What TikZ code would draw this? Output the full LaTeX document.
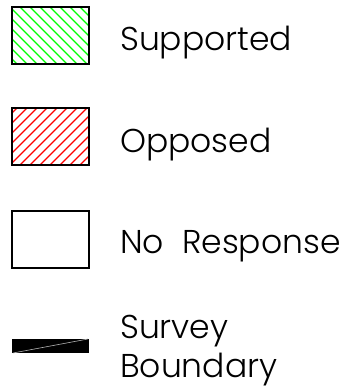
\documentclass[tikz,border=0pt]{standalone}
\usepackage{fontspec}
\setmainfont{Poppins}[UprightFont={* Light}]
\begin{document}
\begin{tikzpicture}[x=1pt,y=-1pt,
  legbox/.style={draw=black,line width=1.4pt},
  legtext/.style={anchor=base west,inner sep=0pt,font=\fontsize{33}{36}\selectfont},
  hatchline/.style={line width=1.1pt}]
\useasboundingbox (0,0) rectangle (361,391);
% Supported
\begin{scope}
\clip (12,7) rectangle (89,64);
\foreach \k in {-60,-50,...,90} {
  \draw[hatchline,green] (\k,7) -- ++(57,57);
}
\end{scope}
\draw[legbox] (12,7) rectangle (89,64) node[pos=0.5] (b1) {};
% Opposed
\begin{scope}
\clip (12,108) rectangle (89,165);
\foreach \k in {-60,-50,...,90} {
  \draw[hatchline,red] (\k,165) -- ++(57,-57);
}
\end{scope}
\draw[legbox] (12,108) rectangle (89,165) node[pos=0.5] (b2) {};
% No response
\draw[legbox] (12,211) rectangle (89,268) node[pos=0.5] (b3) {};
% Survey boundary
\fill[black] (12,339) rectangle (89,353);
\draw[gray!60,line width=0.6pt] (13,353) -- (88,339);
\node[legtext] (t1) at (120,50) {Supported};
\node[legtext] (t2) at (120,152) {Opposed};
\node[legtext] (t3) at (120,253) {No\hspace{0.55em}Response};
\node[legtext] (t4) at (120,338) {Survey};
\node[legtext] (t5) at (120,377) {Boundary};
\end{tikzpicture}
\end{document}
